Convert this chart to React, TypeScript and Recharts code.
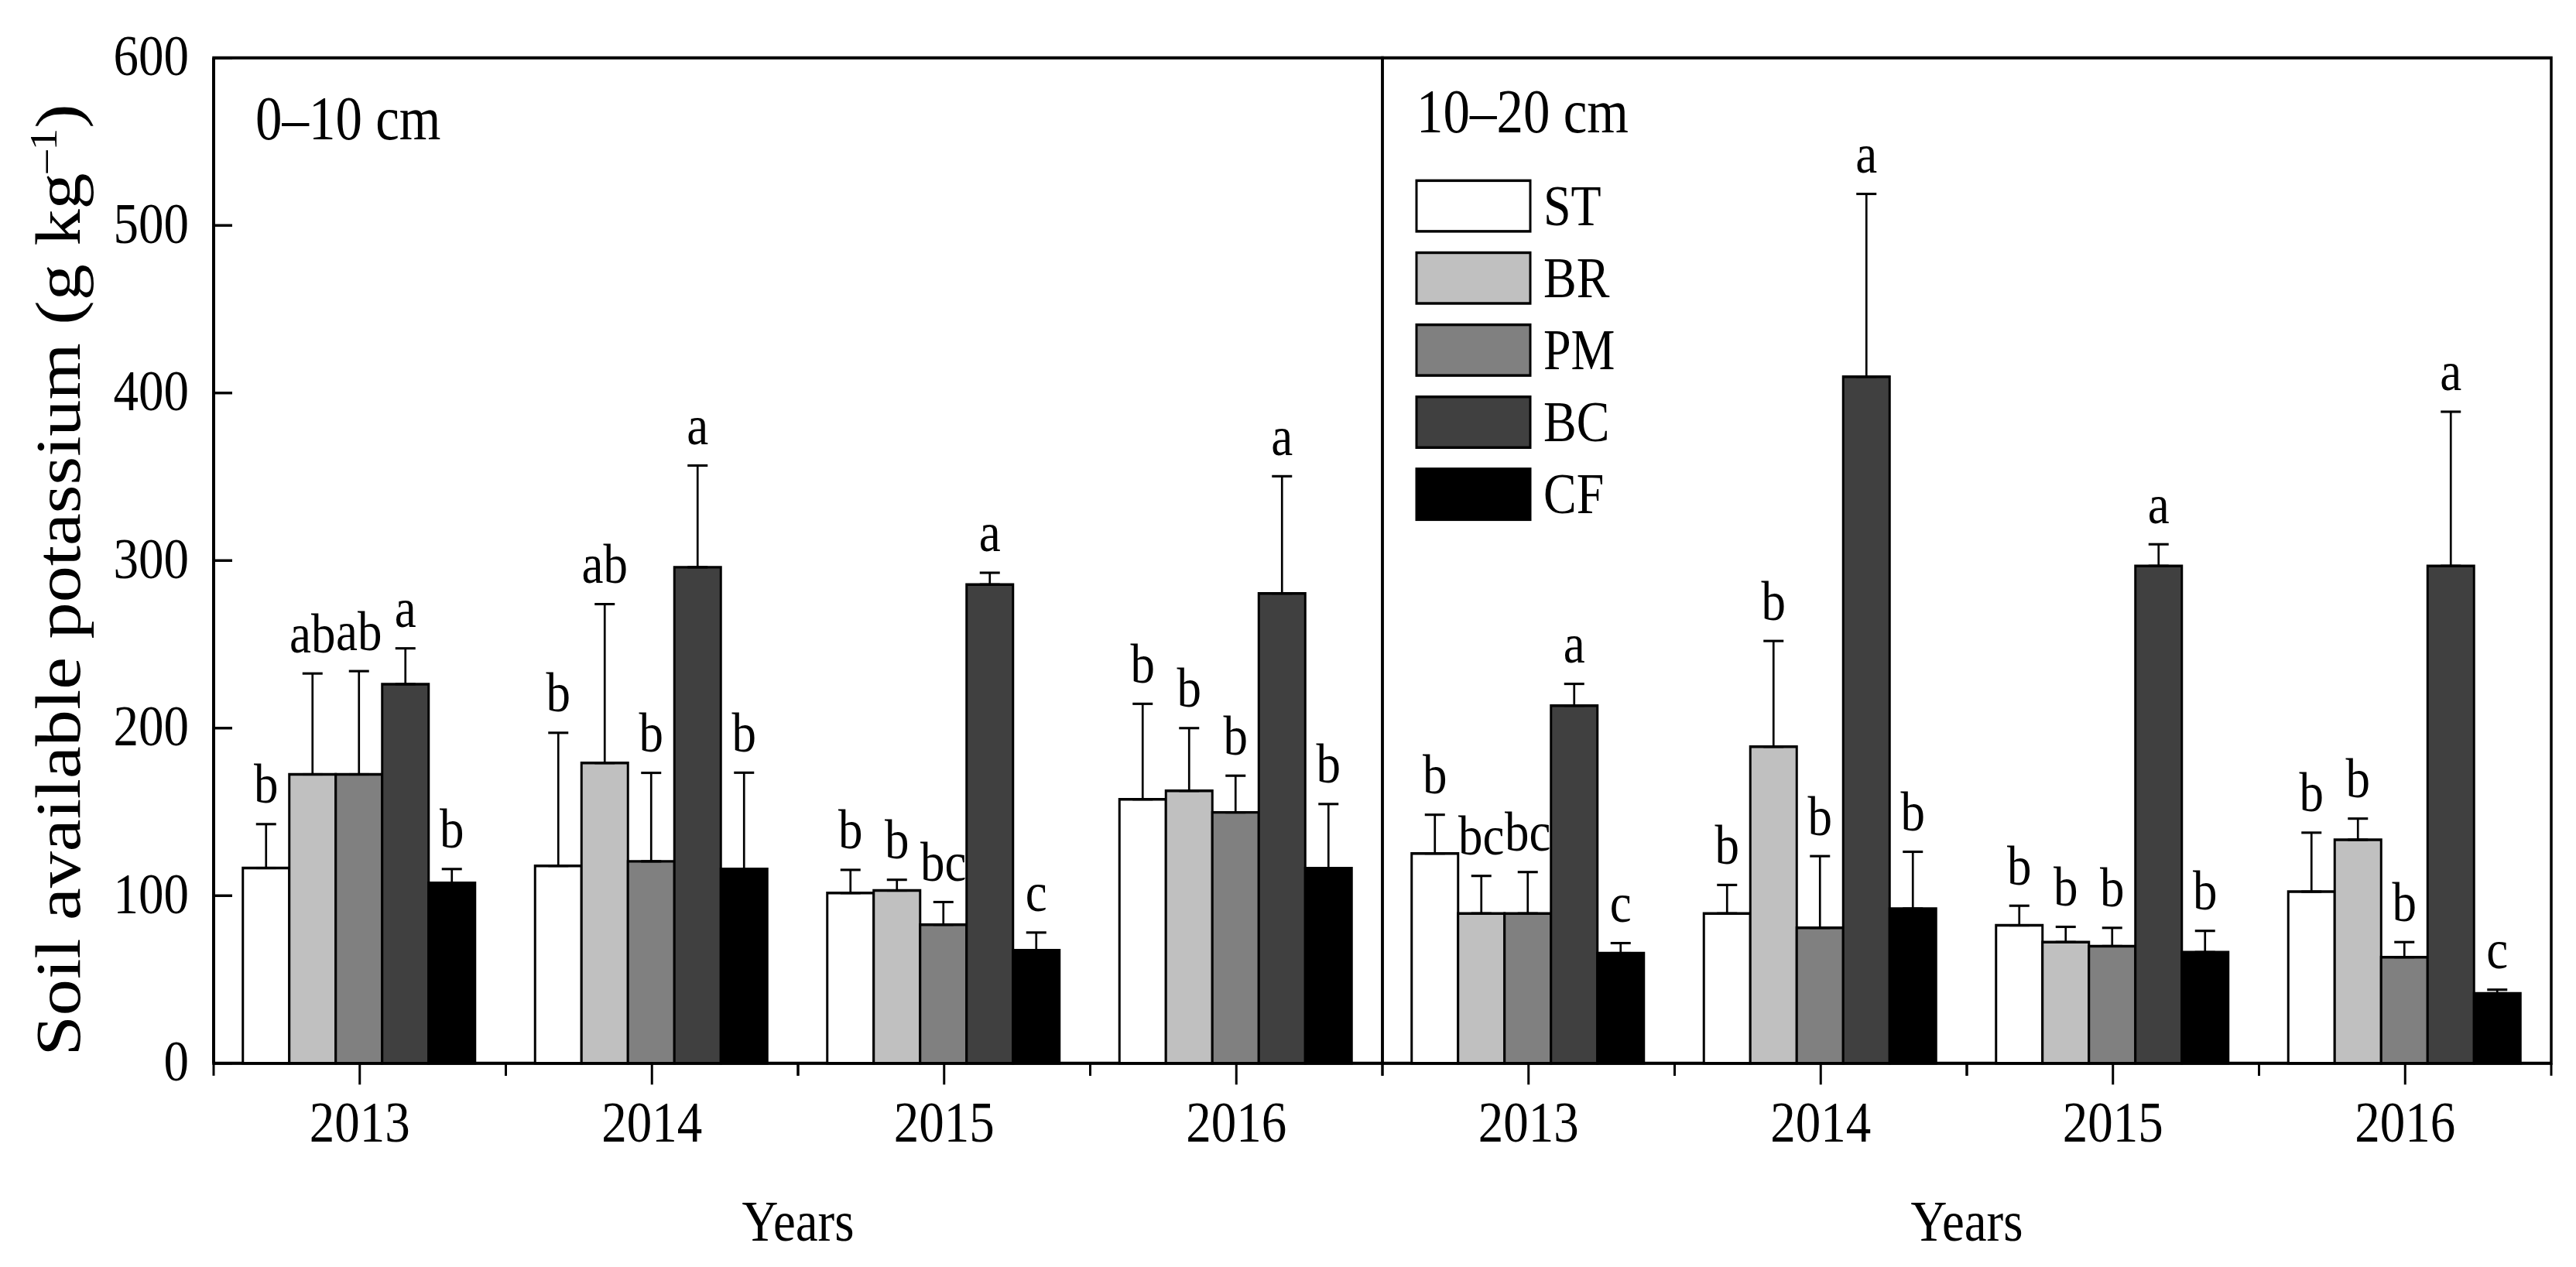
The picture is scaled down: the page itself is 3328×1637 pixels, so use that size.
import { BarChart, Bar, XAxis, YAxis, ErrorBar, LabelList, Legend, ReferenceArea } from 'recharts'

// the source figure is a little taller than its fonts suggest, so the chart is
// laid out at native height and stretched vertically by this factor
const STRETCH = 1637 / 1424
const FONT = '"Liberation Serif", "Times New Roman", serif'

const years = ['2013', '2014', '2015', '2016']
const treatments = ['ST', 'BR', 'PM', 'BC', 'CF']
const fills: Record<string, string> = { ST: '#ffffff', BR: '#c0c0c0', PM: '#808080', BC: '#404040', CF: '#000000' }

// 0–10 cm: means, upper error (SD), significance letters
const st0 = [116.5, 117.8, 101.6, 157.5]
const st0Err = [26.2, 79.4, 13.8, 57.0]
const st0Sig = ['b', 'b', 'b', 'b']
const br0 = [172.4, 179.2, 103.1, 162.6]
const br0Err = [60.2, 94.8, 6.4, 37.4]
const br0Sig = ['ab', 'ab', 'b', 'b']
const pm0 = [172.4, 120.5, 82.7, 149.7]
const pm0Err = [61.6, 52.8, 13.5, 21.9]
const pm0Sig = ['ab', 'b', 'bc', 'b']
const bc0 = [226.2, 296.0, 285.7, 280.4]
const bc0Err = [21.4, 60.7, 7.0, 69.9]
const bc0Sig = ['a', 'a', 'a', 'a']
const cf0 = [107.6, 115.9, 67.5, 116.4]
const cf0Err = [8.3, 57.5, 10.5, 38.3]
const cf0Sig = ['b', 'b', 'c', 'b']

// 10–20 cm
const st1 = [125.2, 89.4, 82.3, 102.4]
const st1Err = [23.1, 17.0, 11.7, 35.2]
const st1Sig = ['b', 'b', 'b', 'b']
const br1 = [89.4, 188.9, 72.3, 133.4]
const br1Err = [22.4, 63.1, 9.1, 12.6]
const br1Sig = ['bc', 'b', 'b', 'b']
const pm1 = [89.4, 80.8, 69.9, 63.3]
const pm1Err = [24.7, 42.8, 10.9, 9.0]
const pm1Sig = ['bc', 'b', 'b', 'b']
const bc1 = [213.4, 409.7, 296.8, 296.8]
const bc1Err = [13.0, 109.1, 12.9, 92.0]
const bc1Sig = ['a', 'a', 'a', 'a']
const cf1 = [65.7, 92.3, 66.3, 41.7]
const cf1Err = [6.0, 33.9, 12.7, 2.2]
const cf1Sig = ['c', 'b', 'b', 'c']

const valueTicks = [0, 100, 200, 300, 400, 500, 600]

function buildRows(means: number[][], errs: number[][], sigs: string[][]) {
  return years.map((year, i) => {
    const row: any = { year }
    treatments.forEach((t, k) => {
      row[t] = means[k][i]
      row[t + 'Up'] = errs[k][i]
      row[t + 'Err'] = [0, errs[k][i]]
      row[t + 'Sig'] = sigs[k][i]
    })
    return row
  })
}

const shallowRows = buildRows([st0, br0, pm0, bc0, cf0], [st0Err, br0Err, pm0Err, bc0Err, cf0Err], [st0Sig, br0Sig, pm0Sig, bc0Sig, cf0Sig])
const deepRows = buildRows([st1, br1, pm1, bc1, cf1], [st1Err, br1Err, pm1Err, bc1Err, cf1Err], [st1Sig, br1Sig, pm1Sig, bc1Sig, cf1Sig])

// letter sits above the error cap; cap height comes from the bar's own pixel scale
const sigLabel = (rows: any[], key: string) => (props: any) => {
  const vb = props.viewBox ?? props
  const row = rows[props.index]
  if (!row || vb == null) return null
  const h = Math.abs(vb.height)
  const top = Math.min(vb.y, vb.y + vb.height)
  const capY = top - (row[key] ? (row[key + 'Up'] * h) / row[key] : 0)
  return (
    <text x={vb.x + vb.width / 2} y={capY - 24} textAnchor="middle" fontSize={63} fontFamily={FONT} fill="#000">
      {props.value}
    </text>
  )
}

const YearTick = (props: any) => {
  const { x, y, payload } = props
  const half = payload?.offset ?? 188.75
  return (
    <g>
      <line x1={x} x2={x} y1={y} y2={y + 24} stroke="#000" strokeWidth={3} />
      <line x1={x - half} x2={x - half} y1={y} y2={y + 14} stroke="#000" strokeWidth={3} />
      <line x1={x + half} x2={x + half} y1={y} y2={y + 14} stroke="#000" strokeWidth={3} />
      <text x={x} y={y + 88} textAnchor="middle" fontSize={65} fontFamily={FONT} fill="#000">
        {payload.value}
      </text>
    </g>
  )
}

const ValueTick = (props: any) => {
  const { x, y, payload } = props
  return (
    <g>
      <line x1={x} x2={x + 24} y1={y} y2={y} stroke="#000" strokeWidth={3} />
      <text x={x - 32} y={y} dy="0.3em" textAnchor="end" fontSize={65} fontFamily={FONT} fill="#000">
        {payload.value}
      </text>
    </g>
  )
}

const yTitle = (props: any) => {
  const vb = props.viewBox ?? { x: 0, y: 65, width: 276, height: 1130 }
  const cx = vb.x + 103
  const cy = vb.y + vb.height / 2 + 22
  return (
    <text x={cx} y={cy} textAnchor="middle" fontSize={82} fontFamily={FONT} fill="#000" transform={`rotate(-90, ${cx}, ${cy})`}>
      Soil available potassium (g kg
      <tspan dy={-30} fontSize={50}>–1</tspan>
      <tspan dy={30}>)</tspan>
    </text>
  )
}

const yearsTitle = (props: any) => {
  const vb = props.viewBox
  if (!vb) return null
  return (
    <text x={vb.x + vb.width / 2} y={vb.y + 199} textAnchor="middle" fontSize={65} fontFamily={FONT} fill="#000">
      Years
    </text>
  )
}

const panelTitle = (text: string, dx: number, dy: number) => (props: any) => {
  const vb = props.viewBox
  if (!vb) return null
  return (
    <text x={vb.x + dx} y={Math.min(vb.y, vb.y + vb.height) + dy} fontSize={69} fontFamily={FONT} fill="#000">
      {text}
    </text>
  )
}

const renderLegend = (props: any) => {
  const payload = props.payload ?? []
  const items = treatments.map((t) => payload.find((p: any) => p.value === t)).filter(Boolean)
  return (
    <svg width={420} height={500} style={{ overflow: 'visible' }}>
      {items.map((p: any, i: number) => (
        <g key={p.value}>
          <rect x={12} y={12 + i * 81} width={147} height={57} fill={p.color} stroke="#000" strokeWidth={3} />
          <text x={176} y={12 + i * 81 + 50} fontSize={64} fontFamily={FONT} fill="#000">
            {p.value}
          </text>
        </g>
      ))}
    </svg>
  )
}

function bars(rows: any[]) {
  return treatments.map((t) => (
    <Bar key={t} dataKey={t} name={t} fill={fills[t]} stroke="#000" strokeWidth={3} isAnimationActive={false}>
      <ErrorBar dataKey={t + 'Err'} width={13} stroke="#000" strokeWidth={2.7} isAnimationActive={false} />
      <LabelList dataKey={t + 'Sig'} content={sigLabel(rows, t)} />
    </Bar>
  ))
}

const CHART_H = 1424

export default function App() {
  return (
    <div
      style={{
        position: 'absolute',
        left: 0,
        top: 0,
        width: 3328,
        height: CHART_H,
        background: '#fff',
        transform: `scaleY(${STRETCH})`,
        transformOrigin: '0 0',
      }}
    >
      <div style={{ position: 'absolute', left: 0, top: 0 }}>
        <BarChart width={1800} height={CHART_H} data={shallowRows} margin={{ top: 65, right: 14, bottom: 0, left: 0 }} barCategoryGap="10%" barGap={0}>
          <XAxis dataKey="year" height={229} interval={0} tickSize={0} tickMargin={0} tickLine={false} tick={YearTick} axisLine={{ stroke: '#000', strokeWidth: 3 }} label={yearsTitle} />
          <YAxis type="number" domain={[0, 600]} ticks={valueTicks} interval={0} width={276} tickSize={0} tickMargin={0} tickLine={false} tick={ValueTick} axisLine={{ stroke: '#000', strokeWidth: 4 }} label={yTitle} />
          <ReferenceArea y1={0} y2={600} fill="none" fillOpacity={0} stroke="#000" strokeWidth={3.5} label={panelTitle('0–10 cm', 54, 92)} />
          {bars(shallowRows)}
        </BarChart>
      </div>
      <div style={{ position: 'absolute', left: 1700, top: 0 }}>
        <BarChart width={1628} height={CHART_H} data={deepRows} margin={{ top: 65, right: 32, bottom: 0, left: 86 }} barCategoryGap="10%" barGap={0}>
          <XAxis dataKey="year" height={229} interval={0} tickSize={0} tickMargin={0} tickLine={false} tick={YearTick} axisLine={{ stroke: '#000', strokeWidth: 3 }} label={yearsTitle} />
          <YAxis type="number" domain={[0, 600]} ticks={valueTicks} hide />
          <ReferenceArea y1={0} y2={600} fill="none" fillOpacity={0} stroke="#000" strokeWidth={3.5} label={panelTitle('10–20 cm', 44, 84)} />
          <Legend
            layout="vertical"
            align="center"
            verticalAlign="middle"
            content={renderLegend}
            wrapperStyle={{ position: 'absolute', left: 118, top: 191, width: 420, height: 500 }}
          />
          {bars(deepRows)}
        </BarChart>
      </div>
    </div>
  )
}
